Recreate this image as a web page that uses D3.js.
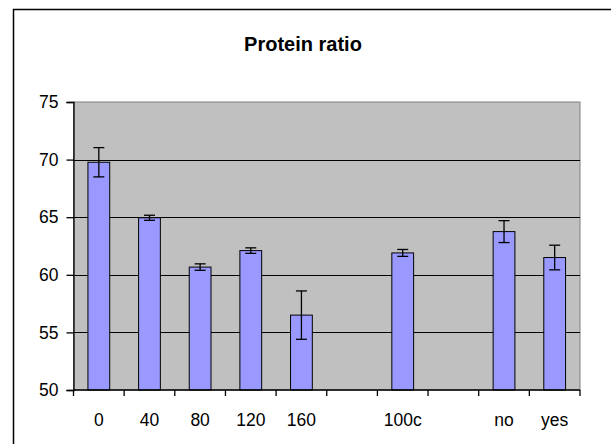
<!DOCTYPE html>
<html><head><meta charset="utf-8">
<script src="https://cdn.jsdelivr.net/npm/d3@7"></script>
<style>body{margin:0;background:#fff}svg{display:block}</style>
</head><body>
<svg id="c" width="611" height="444"></svg>
<script>
const categories = ["0","40","80","120","160","","100c","","no","yes"];
const values = [69.77, 64.95, 60.67, 62.1, 56.5, null, 61.9, null, 63.75, 61.5];
const errors = [1.27, 0.22, 0.28, 0.24, 2.1, null, 0.3, null, 0.95, 1.07];
const yTicks = [50, 55, 60, 65, 70, 75];
const title = "Protein ratio";

const svg = d3.select("#c");
const L = 73.5, R = 580, T = 102, B = 390;
const FONT = "Arial, 'Liberation Sans', sans-serif";

svg.append("rect").attr("x",13.5).attr("y",9.5).attr("width",620).attr("height",460)
  .attr("fill","#fff").attr("stroke","#000").attr("stroke-width",1.5);

const x = d3.scaleBand().domain(d3.range(categories.length)).range([L,R]).paddingInner(0).paddingOuter(0);
const y = d3.scaleLinear().domain([50,75]).range([B,T]);

svg.append("rect").attr("x",L).attr("y",T).attr("width",R-L).attr("height",B-T)
  .attr("fill","#c0c0c0").attr("stroke","#808080").attr("stroke-width",1);

// grid
svg.append("g").selectAll("line").data(yTicks.filter(t=>t>50 && t<75)).join("line")
  .attr("x1",L).attr("x2",R).attr("y1",d=>Math.round(y(d))+0.5).attr("y2",d=>Math.round(y(d))+0.5)
  .attr("stroke","#000").attr("stroke-width",1);

// bars
const bw = x.bandwidth()*0.43;
const data = categories.map((c,i)=>({i, v:values[i], e:errors[i]})).filter(d=>d.v!=null);
svg.append("g").selectAll("rect").data(data).join("rect")
  .attr("x",d=>x(d.i)+x.bandwidth()/2-bw/2).attr("width",bw)
  .attr("y",d=>y(d.v)).attr("height",d=>B-y(d.v))
  .attr("fill","#9999ff").attr("stroke","#000").attr("stroke-width",1);

// error bars
const eg = svg.append("g").attr("stroke","#000").attr("stroke-width",1.3);
data.forEach(d=>{
  const cx = x(d.i)+x.bandwidth()/2;
  eg.append("line").attr("x1",cx).attr("x2",cx).attr("y1",y(d.v+d.e)).attr("y2",y(d.v-d.e));
  eg.append("line").attr("x1",cx-5.5).attr("x2",cx+5.5).attr("y1",y(d.v+d.e)).attr("y2",y(d.v+d.e));
  eg.append("line").attr("x1",cx-5.5).attr("x2",cx+5.5).attr("y1",y(d.v-d.e)).attr("y2",y(d.v-d.e));
});

// y axis
const ya = svg.append("g").attr("transform",`translate(${L},0)`)
  .call(d3.axisLeft(y).tickValues(yTicks).tickSize(7).tickPadding(8).tickFormat(d3.format("d")));
ya.select(".domain").attr("stroke","#000").attr("stroke-width",1.3);
ya.selectAll(".tick line").attr("stroke","#000").attr("stroke-width",1.3);
ya.selectAll("text").attr("font-family",FONT).attr("font-size",17.5).attr("fill","#000");

// x axis
const boundaries = d3.range(categories.length+1).map(i=> i<categories.length ? x(i) : R);
const xa = svg.append("g");
xa.append("line").attr("x1",L).attr("x2",R).attr("y1",B).attr("y2",B).attr("stroke","#000").attr("stroke-width",1.3);
xa.selectAll("line.t").data(boundaries).join("line").attr("class","t")
  .attr("x1",d=>d).attr("x2",d=>d).attr("y1",B).attr("y2",B+6).attr("stroke","#000").attr("stroke-width",1.3);
xa.selectAll("text").data(categories.map((c,i)=>({c,i})).filter(d=>d.c)).join("text")
  .attr("x",d=>x(d.i)+x.bandwidth()/2).attr("y",426).attr("text-anchor","middle")
  .attr("font-family",FONT).attr("font-size",17.5).attr("fill","#000")
  .text(d=>d.c);

svg.append("text").attr("x",303).attr("y",51).attr("text-anchor","middle")
  .attr("font-family",FONT).attr("font-weight","bold").attr("font-size",20)
  .attr("fill","#000").text(title);
</script>
</body></html>
